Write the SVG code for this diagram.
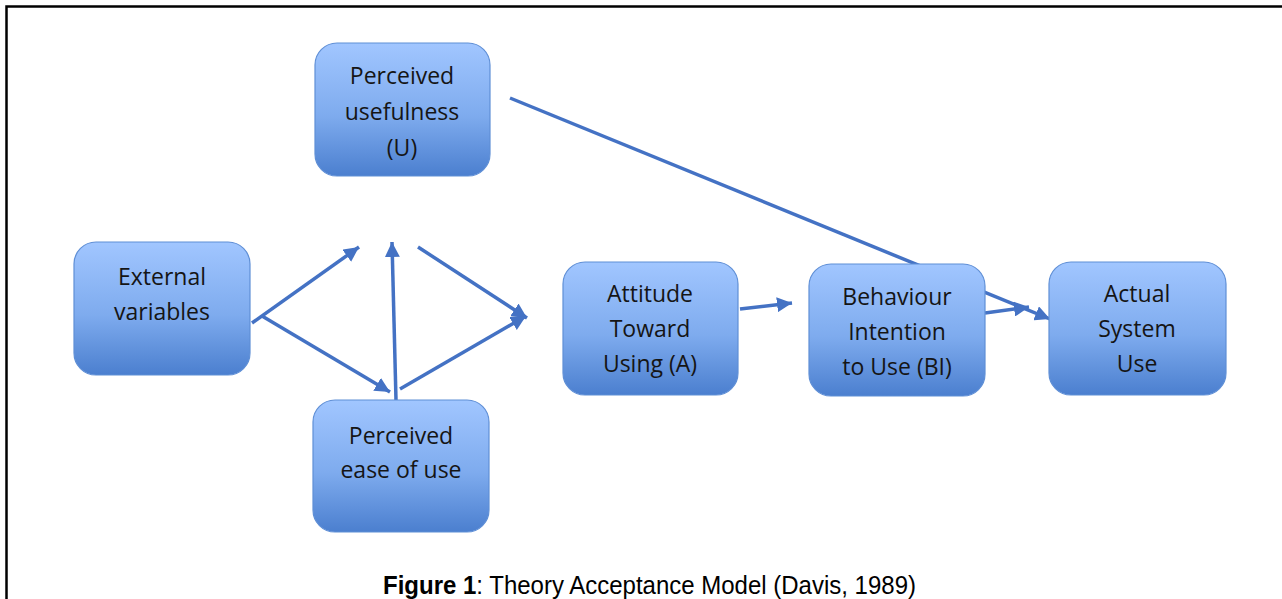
<svg xmlns="http://www.w3.org/2000/svg" width="1282" height="599" viewBox="0 0 1282 599">
<style>
.box{fill:url(#g);stroke:#5f8fd6;stroke-width:1.2}
.t{font-family:"Open Sans","Liberation Sans",sans-serif;font-size:23px;fill:#151515;text-anchor:middle}
.c{stroke:#4472c4;stroke-width:3.5;fill:none;marker-end:url(#ah)}
.cap{font-family:"Liberation Sans",Arial,sans-serif;font-size:25px;fill:#000}
</style>
<defs>
<linearGradient id="g" x1="0" y1="0" x2="0" y2="1">
<stop offset="0" stop-color="#a1c6ff"/>
<stop offset="0.55" stop-color="#7eabee"/>
<stop offset="1" stop-color="#4b7fcf"/>
</linearGradient>
<marker id="ah" markerUnits="userSpaceOnUse" markerWidth="17" markerHeight="15" refX="15" refY="7.5" orient="auto">
<path d="M0,0 L15,7.5 L0,15 Z" fill="#4472c4"/>
</marker>
</defs>
<rect x="0" y="0" width="1282" height="599" fill="#fff"/>
<path d="M6.5,610 V6.5 H1290" fill="none" stroke="#000" stroke-width="2.5"/>
<g id="connectors">
<line class="c" x1="510" y1="98" x2="1050" y2="319"/>
<line class="c" x1="252" y1="323" x2="359" y2="247"/>
<line class="c" x1="262" y1="316" x2="390" y2="392"/>
<line class="c" x1="396" y1="400" x2="392" y2="242"/>
<line class="c" x1="418" y1="247" x2="527" y2="318"/>
<line class="c" x1="400" y1="389" x2="526" y2="316"/>
<line class="c" x1="740" y1="309" x2="792" y2="303"/>
<line class="c" x1="985" y1="313" x2="1029" y2="307"/>
</g>
<g id="pu">
<rect class="box" x="315" y="43" width="175" height="133" rx="22"/>
<text class="t" x="402" y="84">Perceived</text>
<text class="t" x="402" y="120">usefulness</text>
<text class="t" x="402" y="156">(U)</text>
</g>
<g id="ext">
<rect class="box" x="74" y="242" width="176" height="133" rx="22"/>
<text class="t" x="162" y="285">External</text>
<text class="t" x="162" y="320">variables</text>
</g>
<g id="peou">
<rect class="box" x="313" y="400" width="176" height="132" rx="22"/>
<text class="t" x="401" y="444">Perceived</text>
<text class="t" x="401" y="478">ease of use</text>
</g>
<g id="att">
<rect class="box" x="563" y="262" width="175" height="133" rx="22"/>
<text class="t" x="650" y="302">Attitude</text>
<text class="t" x="650" y="337">Toward</text>
<text class="t" x="650" y="372">Using (A)</text>
</g>
<g id="bi">
<rect class="box" x="809" y="264" width="176" height="132" rx="22"/>
<text class="t" x="897" y="305">Behaviour</text>
<text class="t" x="897" y="340">Intention</text>
<text class="t" x="897" y="375">to Use (BI)</text>
</g>
<g id="asu">
<rect class="box" x="1049" y="262" width="177" height="133" rx="22"/>
<text class="t" x="1137" y="302">Actual</text>
<text class="t" x="1137" y="337">System</text>
<text class="t" x="1137" y="372">Use</text>
</g>
<text class="cap" x="383" y="594" textLength="533" lengthAdjust="spacingAndGlyphs"><tspan font-weight="bold">Figure 1</tspan>: Theory Acceptance Model (Davis, 1989)</text>
</svg>
